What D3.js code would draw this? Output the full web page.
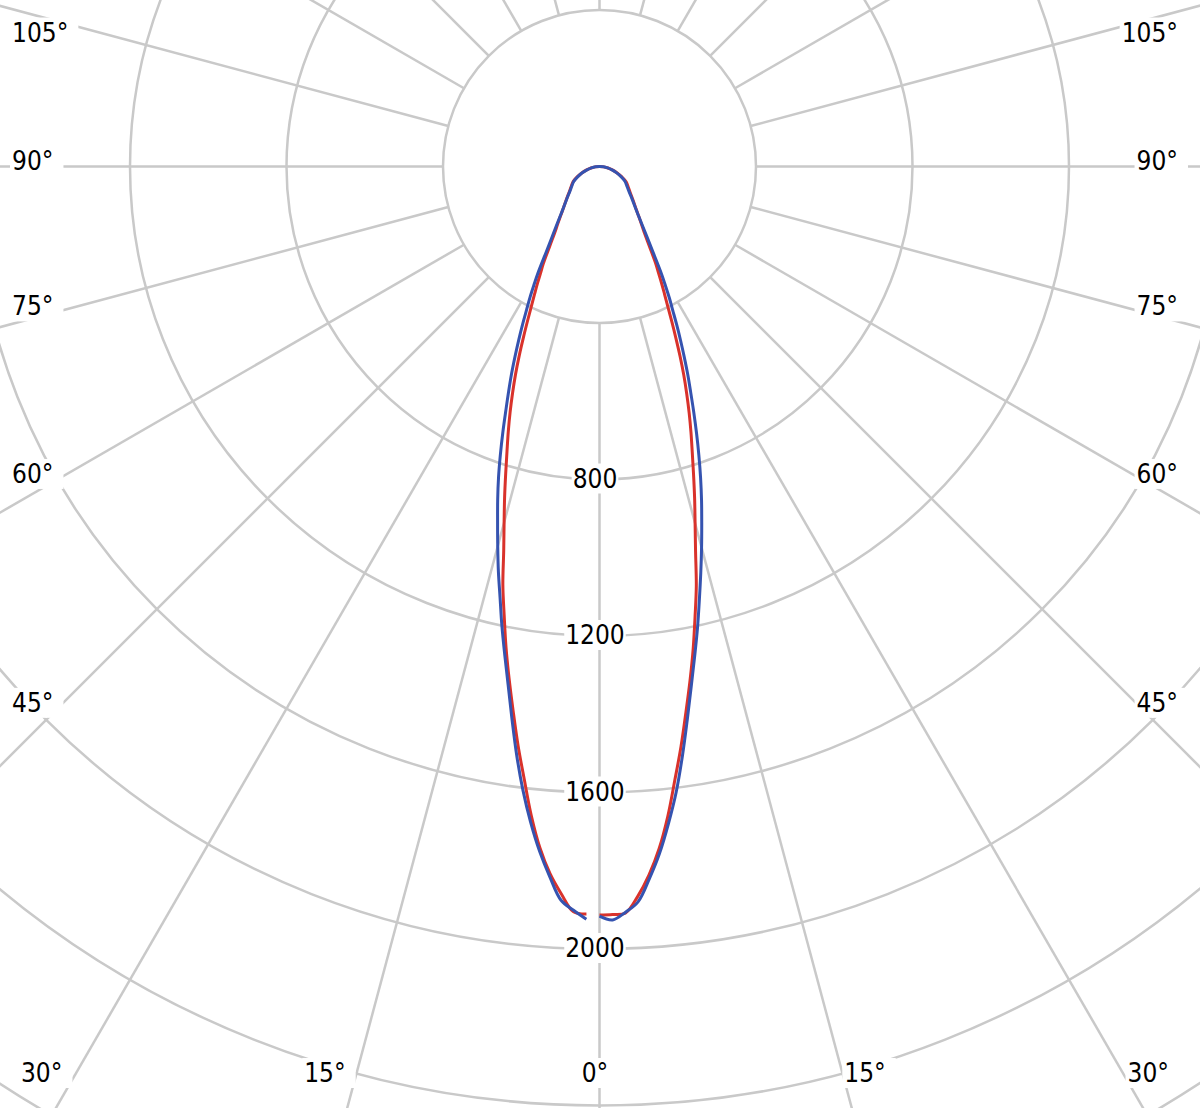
<!DOCTYPE html>
<html><head><meta charset="utf-8">
<script src="https://cdn.jsdelivr.net/npm/d3@7"></script>
<style>html,body{margin:0;padding:0;background:#fff;overflow:hidden}</style>
</head><body>
<svg id="chart" width="1200" height="1108"></svg>
<script>
// gamma angles (degrees from nadir)
const angles = [0,1,2,3,4,5,6,7,8,9,10,11,12,13,14,15,16,17,18,19,20,21,22,23,24,25,26,27,28,29,30,32,34,36,38,40,45,50,55,60,65,70,75,80,85,90];
// C0-C180 plane (red)
const redLeft  = [null,1911,1906,1862,1812,1748,1668,1578,1495,1410,1330,1252,1172,1098,1012,942,880,820,765,716,668,620,573,525,478,435,397,365,337,310,288,240,205,182,163,147,120,101,88,78,63,48,34,22,11,0];
const redRight = [1913,1912,1909,1868,1815,1750,1670,1580,1497,1412,1333,1255,1175,1100,1015,944,882,822,767,718,670,622,575,527,480,437,398,366,338,311,289,241,206,183,164,148,121,102,89,79,63,48,34,22,11,0];
// C90-C270 plane (blue)
const blueLeft  = [null,1924,1902,1878,1820,1757,1685,1606,1520,1430,1345,1270,1200,1130,1068,1005,945,890,835,778,722,668,620,575,530,488,448,410,378,345,315,256,216,188,166,148,119,99,86,76,61,47,33,21,10,0];
const blueRight = [1916,1926,1907,1882,1825,1762,1688,1610,1522,1433,1350,1275,1205,1135,1070,1008,948,892,836,780,725,672,622,577,532,490,450,412,380,347,317,258,217,187,164,147,118,98,85,75,60,46,33,21,10,0];

const ringValues = [400,800,1200,1600,2000,2400,2800,3200];
const ringLabelValues = [800,1200,1600,2000];
const sideLabelAngles = [105,90,75,60,45];
const bottomLabelAngles = [30,15,0];

const W = 1200, H = 1108, cx = 599.5, cy = 166.5;
const rad = Math.PI / 180;
const r = d3.scaleLinear().domain([0, 400]).range([0, 156.5]);
const labelShift = -4.5;
const lx = cx + labelShift;
const fs = 26;
const fontFamily = "'DejaVu Sans Condensed','DejaVu Sans',sans-serif";
const gridColor = "#c9c9c9";

const svg = d3.select("#chart");
svg.append("rect").attr("width", W).attr("height", H).attr("fill", "#fff");

const grid = svg.append("g").attr("transform", `translate(${cx},${cy})`);
grid.selectAll("circle").data(ringValues).join("circle")
  .attr("r", d => r(d)).attr("fill", "none")
  .attr("stroke", gridColor).attr("stroke-width", 2.5);
const rayAngles = d3.range(0, 360, 15);
grid.selectAll("line").data(rayAngles).join("line")
  .attr("x1", a => r(400) * Math.sin(a * rad)).attr("y1", a => r(400) * Math.cos(a * rad))
  .attr("x2", a => r(3600) * Math.sin(a * rad)).attr("y2", a => r(3600) * Math.cos(a * rad))
  .attr("stroke", gridColor).attr("stroke-width", 2.5);

// labels
const labelLayer = svg.append("g");
function addLabel(txt, anchor) {
  const g = labelLayer.append("g");
  const bg = g.append("rect").attr("fill", "#fff");
  const t = g.append("text").text(txt)
    .attr("font-family", fontFamily).attr("font-size", fs)
    .attr("fill", "#000").attr("text-anchor", anchor);
  return {g, bg, t, w: t.node().getComputedTextLength()};
}
function fitBg(L, padL, padR, padT, padB) {
  const bb = L.t.node().getBBox();
  L.bg.attr("x", bb.x - padL).attr("y", bb.y - padT)
    .attr("width", bb.width + padL + padR).attr("height", bb.height + padT + padB);
}
const halfSpan = 583;
sideLabelAngles.forEach(A => {
  const phi = 90 - A; // positive = below horizontal
  [-1, 1].forEach(side => {
    const L = addLabel(A + "\u00B0", side < 0 ? "start" : "end");
    const xAnchor = lx + side * halfSpan;
    const dx = halfSpan - L.w;
    let base;
    if (phi >= 0) base = cy + dx * Math.tan(phi * rad) + 3.8;
    else base = cy + dx * Math.tan(phi * rad) - 2.8 + 0.729 * fs;
    L.t.attr("x", xAnchor).attr("y", base);
    fitBg(L, 2, 10, 0, 0);
  });
});
const bottomBase = 1082;
bottomLabelAngles.forEach(A => {
  const sides = A === 0 ? [0] : [-1, 1];
  sides.forEach(side => {
    const L = addLabel(A + "\u00B0", "middle");
    const off = A === 0 ? 0 : (bottomBase - cy) * Math.tan(A * rad) + L.w / 2 + 4;
    L.t.attr("x", lx + side * off).attr("y", bottomBase);
    fitBg(L, 2, 10, 0, 0);
  });
});
ringLabelValues.forEach(v => {
  const L = addLabel(String(v), "middle");
  L.t.attr("x", lx).attr("y", cy + r(v) + 8);
  fitBg(L, 1, 1, 0, 0);
});

// curves
const line = d3.lineRadial()
  .angle(d => d.a).radius(d => r(d.v))
  .defined(d => d.v != null)
  .curve(d3.curveCatmullRom.alpha(0.5));
function pathPoints(left, right) {
  const pts = angles.map((g, i) => ({a: Math.PI + g * rad, v: left[i]}));
  for (let i = angles.length - 2; i >= 0; i--) pts.push({a: Math.PI - angles[i] * rad, v: right[i]});
  return pts;
}
const curves = svg.append("g").attr("transform", `translate(${cx},${cy})`);
[[redLeft, redRight, "#d9322b"], [blueLeft, blueRight, "#3553b0"]].forEach(([L, R, c]) => {
  curves.append("path").attr("d", line(pathPoints(L, R)))
    .attr("fill", "none").attr("stroke", c).attr("stroke-width", 3)
    .attr("stroke-linejoin", "round");
});
</script>
</body></html>
